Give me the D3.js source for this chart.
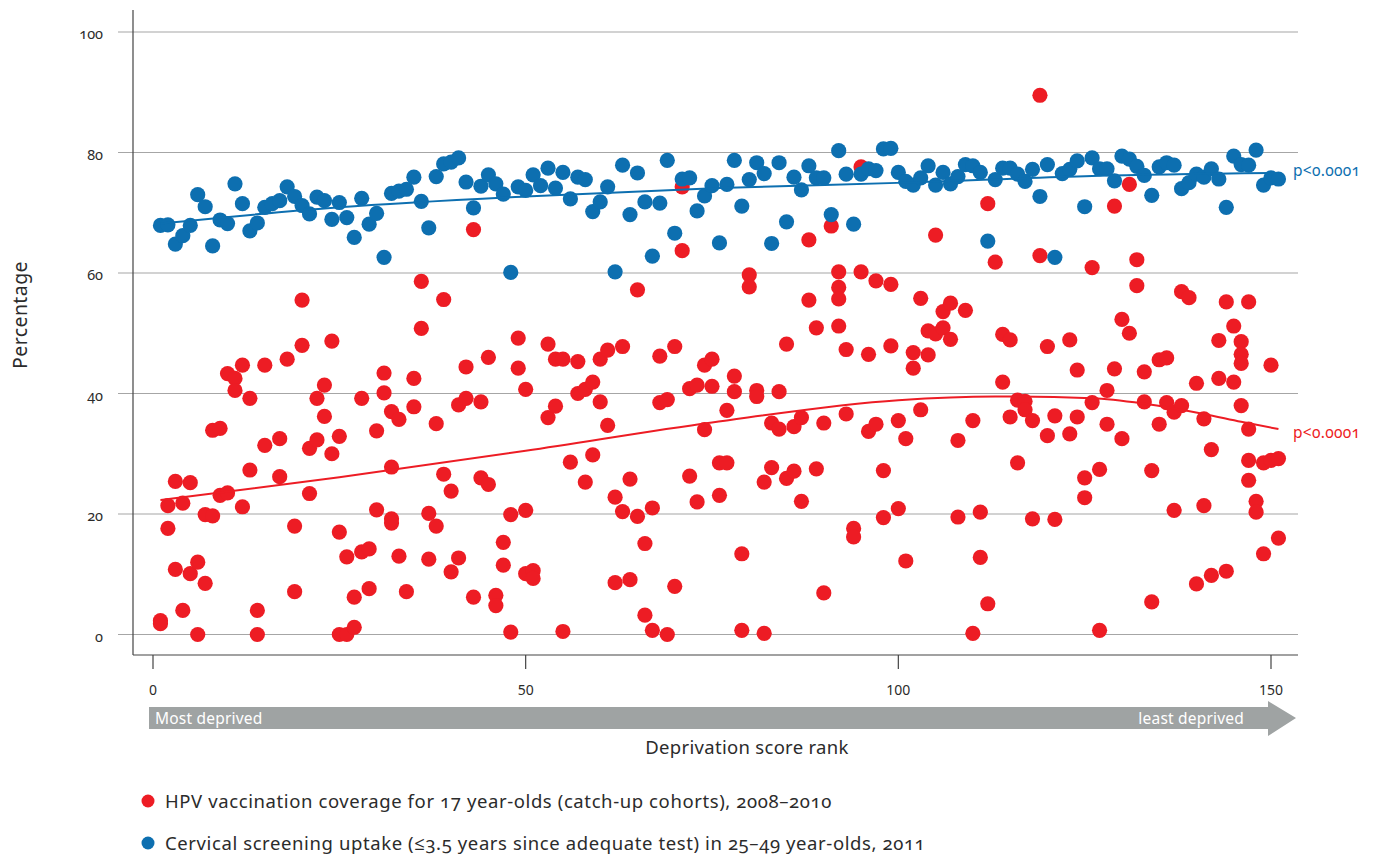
<!DOCTYPE html>
<html>
<head>
<meta charset="utf-8">
<script src="https://cdn.jsdelivr.net/npm/d3@7"></script>
<style>
  body { margin: 0; background: #fff; }
  text { font-family: "Noto Sans", "Open Sans", sans-serif; fill: #2b2b2b; }
  .onum { font-variant-numeric: oldstyle-nums; }
</style>
</head>
<body>
<svg id="chart" width="1373" height="856"></svg>
<script>
// axis ticks
const xTicks = [0, 50, 100, 150];
const yTicks = [0, 20, 40, 60, 80, 100];

// cervical screening uptake, one value per deprivation rank 1..151
const screeningUptake = [
  67.9, 68.0, 64.8, 66.2, 67.9, 73.0, 71.0, 64.5, 68.8, 68.2,
  74.8, 71.5, 67.0, 68.3, 70.9, 71.5, 72.0, 74.3, 72.7, 71.2,
  69.8, 72.6, 72.0, 68.9, 71.7, 69.2, 65.9, 72.4, 68.1, 69.9,
  62.6, 73.2, 73.6, 73.9, 75.9, 71.9, 67.5, 76.0, 78.1, 78.4,
  79.1, 75.1, 70.8, 74.4, 76.3, 74.8, 73.1, 60.1, 74.3, 73.7,
  76.3, 74.5, 77.4, 74.1, 76.7, 72.3, 75.9, 75.5, 70.2, 71.8,
  74.3, 60.2, 77.9, 69.7, 76.6, 71.8, 62.8, 71.6, 78.7, 66.6,
  75.6, 75.8, 70.3, 72.8, 74.5, 65.0, 74.7, 78.7, 71.1, 75.5,
  78.3, 76.5, 64.9, 78.3, 68.5, 75.9, 73.8, 77.8, 75.8, 75.8,
  69.7, 80.3, 76.4, 68.1, 76.4, 77.3, 77.0, 80.6, 80.7, 76.7,
  75.2, 74.6, 75.8, 77.8, 74.6, 76.7, 74.8, 76.0, 78.0, 77.8,
  76.7, 65.3, 75.5, 77.4, 77.4, 76.4, 75.2, 77.2, 72.7, 78.0,
  62.6, 76.5, 77.2, 78.6, 71.0, 79.1, 77.3, 77.3, 75.3, 79.4,
  78.9, 77.7, 76.2, 72.9, 77.6, 78.3, 77.9, 74.0, 75.0, 76.4,
  75.9, 77.3, 75.6, 70.9, 79.4, 78.0, 77.9, 80.4, 74.6, 75.8,
  75.6
];

// HPV vaccination coverage, catch-up cohorts: values at each rank 1..151
const hpvCoverage = [
  [2.3, 1.8], [21.4, 17.6], [25.4, 10.8], [21.8, 4.0], [25.2, 10.1],
  [12.0, 0.0], [19.9, 8.5], [33.9, 19.7], [34.2, 23.1], [43.3, 23.5],
  [42.5, 40.5], [44.7, 21.2], [39.2, 27.3], [4.0, 0.0], [44.7, 31.4],
  [], [32.5, 26.2], [45.7], [18.0, 7.1], [55.5, 48.0],
  [30.9, 23.4], [39.2, 32.3], [41.4, 36.2], [48.7, 30.0], [32.9, 17.0, 0.0],
  [12.9, 0.0], [6.2, 1.2], [39.2, 13.7], [14.2, 7.6], [33.8, 20.7],
  [43.4, 40.1], [37.0, 27.8, 19.2, 18.5], [35.7, 13.0], [7.1], [42.5, 37.8],
  [58.6, 50.8], [20.1, 12.5], [35.0, 18.0], [55.6, 26.6], [23.8, 10.4],
  [38.1, 12.7], [44.4, 39.2], [67.2, 6.2], [38.6, 26.0], [46.0, 24.9],
  [6.5, 4.8], [15.3, 11.5], [19.9, 0.4], [49.2, 44.2], [40.7, 20.6, 10.1],
  [10.6, 9.3], [], [48.2, 36.0], [45.7, 37.9], [45.7, 0.5],
  [28.6], [45.3, 40.0], [40.7, 25.3], [41.9, 29.8], [45.7, 38.6],
  [47.2, 34.7], [22.8, 8.6], [47.8, 20.4], [25.8, 9.1], [57.2, 19.6],
  [15.1, 3.2], [21.0, 0.7], [46.2, 38.5], [39.0, 0.0], [47.8, 8.0],
  [74.3, 63.7], [40.8, 26.3], [41.4, 22.0], [44.7, 34.0], [45.7, 41.2],
  [28.5, 23.1], [37.2, 28.5], [42.9, 40.3], [13.4, 0.7], [59.7, 57.7],
  [40.5, 39.5], [25.3, 0.2], [35.1, 27.7], [40.3, 34.1], [48.2, 25.9],
  [34.5, 27.1], [36.0, 22.1], [65.5, 55.5], [50.9, 27.5], [35.1, 6.9],
  [67.8], [60.2, 57.6, 55.7, 51.2], [47.3, 36.6], [17.6, 16.2], [77.6, 60.2],
  [46.5, 33.7], [58.7, 34.9], [27.2, 19.4], [58.1, 47.9], [35.5, 20.9],
  [32.5, 12.2], [46.8, 44.2], [55.8, 37.3], [50.4, 46.4], [66.3, 49.9],
  [53.6, 50.9], [55.0, 49.0], [32.2, 19.5], [53.8], [35.5, 0.2],
  [20.3, 12.8], [71.5, 5.1], [61.8], [49.8, 41.9], [48.9, 36.1],
  [38.9, 28.5], [38.7, 37.3], [35.5, 19.2], [89.5, 62.9], [47.8, 33.0],
  [36.3, 19.1], [], [48.9, 33.3], [43.9, 36.1], [26.0, 22.7],
  [60.9, 38.5], [27.4, 0.7], [40.5, 34.9], [71.1, 44.1], [52.3, 32.5],
  [74.7, 50.0], [62.2, 57.9], [43.6, 38.6], [27.2, 5.4], [45.6, 34.9],
  [45.9, 38.5], [36.9, 20.6], [56.9, 38.0], [55.9], [41.7, 8.4],
  [35.8, 21.4], [30.7, 9.8], [48.8, 42.5], [55.2, 10.5], [51.2, 41.9],
  [48.6, 46.5, 45.0, 38.0], [55.2, 34.1, 28.9, 25.6], [22.1, 20.3], [28.5, 13.4], [44.7, 28.9],
  [29.2, 16.0]
];

const screeningTrendRank = [1, 25, 50, 76, 101, 126, 151];
const screeningTrendValue = [68.2, 70.9, 72.7, 74.1, 75.0, 76.1, 76.6];
const hpvTrendRank = [1, 25, 50, 75, 100, 113, 126, 133, 141, 146, 151];
const hpvTrendValue = [22.3, 26.1, 30.5, 35.2, 38.9, 39.5, 39.2, 38.3, 36.6, 35.3, 34.1];

const legendLabels = [
  "HPV vaccination coverage for 17 year-olds (catch-up cohorts), 2008–2010",
  "Cervical screening uptake (≤3.5 years since adequate test) in 25–49 year-olds, 2011"
];

const red = "#ed1c24", blue = "#0d6fb0";

const svg = d3.select("#chart");

var x = d3.scaleLinear().domain([0, 150]).range([153, 1271]);
var y = d3.scaleLinear().domain([0, 100]).range([634.5, 32]);

var plotLeft = 133, plotRight = 1298, plotBottom = 655;

// gridlines
svg.append("g").selectAll("line")
  .data(yTicks)
  .enter().append("line")
  .attr("x1", plotLeft - 15).attr("x2", plotRight)
  .attr("y1", d => y(d)).attr("y2", d => y(d))
  .attr("stroke", "#a6a6a6").attr("stroke-width", 1.2);

// axis frame
svg.append("line").attr("x1", plotLeft).attr("x2", plotLeft)
  .attr("y1", 10).attr("y2", plotBottom).attr("stroke", "#444").attr("stroke-width", 1.2);
svg.append("line").attr("x1", plotLeft).attr("x2", plotRight)
  .attr("y1", plotBottom).attr("y2", plotBottom).attr("stroke", "#444").attr("stroke-width", 1.2);

// y labels
svg.append("g").selectAll("text")
  .data(yTicks)
  .enter().append("text")
  .attr("class", "onum")
  .attr("x", 103).attr("y", d => y(d) + 7)
  .attr("text-anchor", "end")
  .attr("font-size", 14.5)
  .text(d => d);

// x ticks
svg.append("g").selectAll("line")
  .data(xTicks)
  .enter().append("line")
  .attr("x1", d => x(d)).attr("x2", d => x(d))
  .attr("y1", plotBottom).attr("y2", plotBottom + 14)
  .attr("stroke", "#444").attr("stroke-width", 1.2);
svg.append("g").selectAll("text")
  .data(xTicks)
  .enter().append("text")
  .attr("x", d => x(d)).attr("y", 695)
  .attr("text-anchor", "middle")
  .attr("font-size", 14)
  .text(d => d);

svg.append("text")
  .attr("transform", "translate(27,315) rotate(-90)")
  .attr("text-anchor", "middle")
  .attr("font-size", 19.5)
  .attr("letter-spacing", 0.4)
  .text("Percentage");

// HPV points
var hpvPoints = [];
hpvCoverage.forEach((vals, i) => {
  vals.forEach(v => hpvPoints.push({ rank: i + 1, value: v }));
});

svg.append("g").selectAll("circle")
  .data(hpvPoints)
  .enter().append("circle")
  .attr("cx", d => x(d.rank)).attr("cy", d => y(d.value))
  .attr("r", 7.6)
  .attr("fill", red);

var trendLine = d3.line().x(d => x(d[0])).y(d => y(d[1])).curve(d3.curveMonotoneX);

svg.append("path")
  .attr("d", trendLine(d3.zip(hpvTrendRank, hpvTrendValue)))
  .attr("fill", "none").attr("stroke", red).attr("stroke-width", 2);

// screening points
svg.append("g").selectAll("circle")
  .data(screeningUptake)
  .enter().append("circle")
  .attr("cx", (d, i) => x(i + 1)).attr("cy", d => y(d))
  .attr("r", 7.6)
  .attr("fill", blue);

svg.append("path")
  .attr("d", trendLine(d3.zip(screeningTrendRank, screeningTrendValue)))
  .attr("fill", "none").attr("stroke", blue).attr("stroke-width", 2);

// p values
svg.append("text").attr("class", "onum")
  .attr("x", 1293).attr("y", 176)
  .attr("font-size", 15.5).attr("letter-spacing", 0.3).style("fill", blue)
  .text("p<0.0001");
svg.append("text").attr("class", "onum")
  .attr("x", 1293).attr("y", 438)
  .attr("font-size", 15.5).attr("letter-spacing", 0.3).style("fill", red)
  .text("p<0.0001");

// deprivation arrow
svg.append("path")
  .attr("d", "M149,707 L1268,707 L1268,701 L1296,718 L1268,736 L1268,729 L149,729 Z")
  .attr("fill", "#9fa3a3");
svg.append("text")
  .attr("x", 155).attr("y", 724)
  .attr("font-size", 15.5).attr("letter-spacing", 0.2).style("fill", "#fff")
  .text("Most deprived");
svg.append("text")
  .attr("x", 1244).attr("y", 724)
  .attr("text-anchor", "end")
  .attr("font-size", 15.5).attr("letter-spacing", 0.2).style("fill", "#fff")
  .text("least deprived");

svg.append("text")
  .attr("x", 747).attr("y", 754)
  .attr("text-anchor", "middle")
  .attr("font-size", 18.5).attr("letter-spacing", 0.3)
  .text("Deprivation score rank");

// legend
var legend = svg.append("g").selectAll("g")
  .data(legendLabels)
  .enter().append("g")
  .attr("transform", (d, i) => "translate(0," + (801 + i * 42) + ")");
legend.append("circle")
  .attr("cx", 148).attr("cy", 0).attr("r", 6.5)
  .attr("fill", (d, i) => i === 0 ? red : blue);
legend.append("text")
  .attr("class", "onum")
  .attr("x", 165).attr("y", 7)
  .attr("font-size", 18.5).attr("letter-spacing", 0.6)
  .text(d => d);
</script>
</body>
</html>
